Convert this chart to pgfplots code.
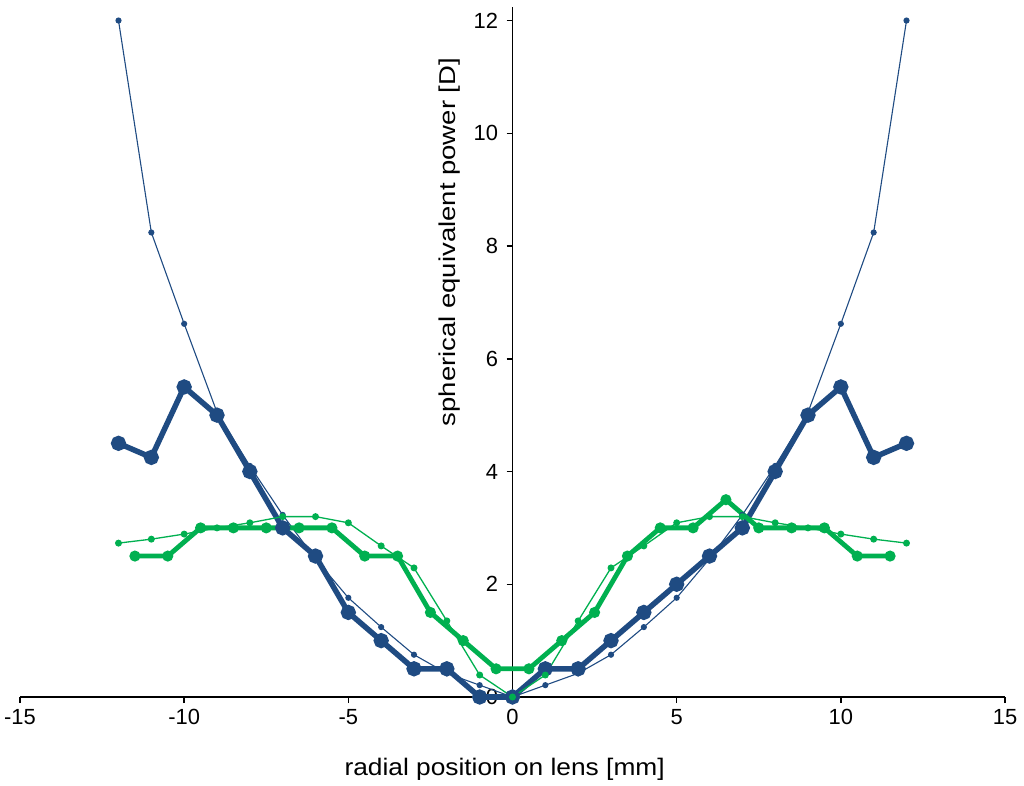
\documentclass[border=0pt]{standalone}
\usepackage{pgfplots}
\pgfplotsset{compat=1.18}
\usepackage{fontspec}
\setmainfont{Liberation Sans}
\definecolor{dblue}{RGB}{31,75,130}
\definecolor{lgreen}{RGB}{0,176,80}
\begin{document}
\begin{tikzpicture}
\useasboundingbox (0,0) rectangle (1024bp,786bp);
\begin{axis}[
  at={(20bp,89bp)}, anchor=south west,
  scale only axis, width=985bp, height=690bp,
  xmin=-15, xmax=15, ymin=0, ymax=12.24,
  axis x line=bottom, axis y line=center,
  axis line style={-, line width=1.8bp, black},
  tick align=outside,
  major tick length=6bp,
  tick style={line width=1.5bp, black},
  hide obscured y ticks=false,
  hide obscured x ticks=false,
  xtick={-15,-10,-5,0,5,10,15},
  ytick={0,2,4,6,8,10,12},
  minor tick num=0,
  /pgf/number format/assume math mode=true,
  tick label style={font=\fontsize{22}{25}\selectfont},
  xticklabel style={yshift=-3bp},
  yticklabel style={xshift=-5bp},
  xlabel={\scalebox{1.1}[1]{radial position on lens [mm]}},
  ylabel={\scalebox{1.2}[1]{spherical equivalent power [D]}},
  xlabel style={at={(axis cs:-0.24,-1.384)}, anchor=base, font=\fontsize{24}{27}\selectfont},
  ylabel style={at={(axis cs:-1.75,8.07)}, anchor=base, rotate=90, font=\fontsize{23}{26}\selectfont},
  clip=false,
]
% thick blue
\addplot[dblue, line width=5.5bp, mark=*, mark size=4.8bp, mark options={solid}] coordinates {
(-12,4.5) (-11,4.25) (-10,5.5) (-9,5.0) (-8,4.0) (-7,3.0) (-6,2.5) (-5,1.5) (-4,1.0) (-3,0.5) (-2,0.5) (-1,0) (0,0)
(1,0.5) (2,0.5) (3,1.0) (4,1.5) (5,2.0) (6,2.5) (7,3.0) (8,4.0) (9,5.0) (10,5.5) (11,4.25) (12,4.5)};
% thin blue
\addplot[dblue, line width=1.1bp, mark=*, mark size=2.5bp] coordinates {
(-12,12) (-11,8.24) (-10,6.62) (-9,5.05) (-8,4.1) (-7,3.23) (-6,2.45) (-5,1.76) (-4,1.24) (-3,0.75) (-2,0.42) (-1,0.21) (0,0)
(1,0.21) (2,0.42) (3,0.75) (4,1.24) (5,1.76) (6,2.45) (7,3.23) (8,4.1) (9,5.05) (10,6.62) (11,8.24) (12,12)};
% thin green
\addplot[lgreen, line width=1.3bp, mark=*, mark size=2.8bp] coordinates {
(-12,2.73) (-11,2.8) (-10,2.89) (-9,3.0) (-8,3.09) (-7,3.2) (-6,3.2) (-5,3.09) (-4,2.68) (-3,2.29) (-2,1.35) (-1,0.39) (0,0)
(1,0.39) (2,1.35) (3,2.29) (4,2.68) (5,3.09) (6,3.2) (7,3.2) (8,3.09) (9,3.0) (10,2.89) (11,2.8) (12,2.73)};
% thick green
\addplot[lgreen, line width=4.8bp, mark=*, mark size=3.0bp] coordinates {
(-11.5,2.5) (-10.5,2.5) (-9.5,3) (-8.5,3) (-7.5,3) (-6.5,3) (-5.5,3) (-4.5,2.5) (-3.5,2.5) (-2.5,1.5) (-1.5,1.0) (-0.5,0.5)
(0.5,0.5) (1.5,1.0) (2.5,1.5) (3.5,2.5) (4.5,3) (5.5,3) (6.5,3.5) (7.5,3) (8.5,3) (9.5,3) (10.5,2.5) (11.5,2.5)};
\end{axis}
\end{tikzpicture}
\end{document}
